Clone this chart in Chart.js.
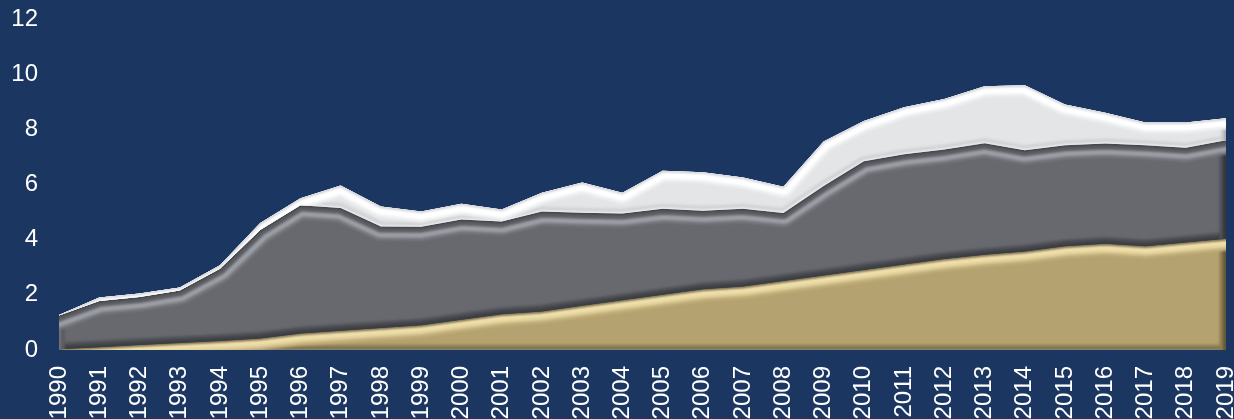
<!DOCTYPE html>
<html>
<head>
<meta charset="utf-8">
<script src="https://cdn.jsdelivr.net/npm/chart.js@4/dist/chart.umd.min.js"></script>
<style>
  html, body { margin: 0; padding: 0; background: #1b3660; }
  #wrap { width: 1234px; height: 419px; }
</style>
</head>
<body>
<div id="wrap"><canvas id="c" width="1234" height="419"></canvas></div>
<script>
// Categories
const years = ['1990','1991','1992','1993','1994','1995','1996','1997','1998','1999',
               '2000','2001','2002','2003','2004','2005','2006','2007','2008','2009',
               '2010','2011','2012','2013','2014','2015','2016','2017','2018','2019'];

// Stacked series, bottom to top
const goldLayer  = [0.03, 0.10, 0.18, 0.25, 0.33, 0.42, 0.60, 0.70, 0.80, 0.90,
                    1.10, 1.30, 1.40, 1.60, 1.80, 2.00, 2.20, 2.30, 2.50, 2.70,
                    2.90, 3.10, 3.30, 3.45, 3.57, 3.76, 3.85, 3.76, 3.90, 4.03];
const greyLayer  = [1.22, 1.68, 1.74, 1.91, 2.62, 3.93, 4.65, 4.45, 3.68, 3.57,
                    3.63, 3.36, 3.62, 3.38, 3.15, 3.12, 2.85, 2.82, 2.47, 3.25,
                    3.94, 4.00, 3.97, 4.05, 3.67, 3.66, 3.64, 3.66, 3.43, 3.57];
const lightLayer = [0.02, 0.12, 0.13, 0.11, 0.12, 0.25, 0.25, 0.81, 0.72, 0.55,
                    0.57, 0.43, 0.68, 1.09, 0.75, 1.38, 1.39, 1.13, 0.95, 1.61,
                    1.46, 1.70, 1.83, 2.06, 2.36, 1.48, 1.11, 0.83, 0.92, 0.80];

// Value axis ticks
const yTicks = [0, 2, 4, 6, 8, 10, 12];

// Bevel bands per layer: [stroke width, colour], widest first
const bevelStyles = [
  { // gold
    bottom: [[12, '#a08f5f'], [7, '#7d6f47'], [2, '#8e8d86']],
    left:   [],
    right:  [[13, '#8c7d51'], [6, '#63583a']],
    top:    [[24, '#c2b07b'], [18, '#e2d19c'], [12, '#f0e0ad'], [4, '#b19f69'], [1.5, '#56524a']]
  },
  { // grey
    bottom: [[14, '#57595e'], [10, '#484a4f'], [5, '#3b3d41']],
    left:   [[12, '#5a5c61'], [4, '#717378']],
    right:  [[13, '#4e5055'], [6, '#36383c']],
    top:    [[28, '#76787e'], [22, '#9c9ea5'], [12, '#5c5e64'], [3, '#3f4146']]
  },
  { // light
    bottom: [[10, '#d2d3d6'], [2, '#f7f7f8']],
    left:   [],
    right:  [[10, '#cbccd0'], [4, '#a8aaae']],
    top:    [[22, '#eeeff0'], [16, '#ffffff'], [3, '#cdcfd3']]
  }
];

function tracePolyline(ctx, pts) {
  ctx.beginPath();
  pts.forEach((p, k) => k ? ctx.lineTo(p.x, p.y) : ctx.moveTo(p.x, p.y));
}

const bevelPlugin = {
  id: 'bevel',
  afterDatasetsDraw(chart) {
    const ctx = chart.ctx;
    const area = chart.chartArea;
    const base = chart.scales.y.getPixelForValue(0);
    let lower = chart.getDatasetMeta(0).data.map(p => ({ x: p.x, y: base }));
    chart.data.datasets.forEach((ds, i) => {
      const upper = chart.getDatasetMeta(i).data.map(p => ({ x: p.x, y: p.y }));
      const st = bevelStyles[i];
      ctx.save();
      ctx.beginPath();
      upper.forEach((p, k) => k ? ctx.lineTo(p.x, p.y) : ctx.moveTo(p.x, p.y));
      for (let k = lower.length - 1; k >= 0; k--) ctx.lineTo(lower[k].x, lower[k].y);
      ctx.closePath();
      ctx.clip();
      ctx.lineJoin = 'round';
      ctx.lineCap = 'square';
      ctx.filter = 'blur(0.8px)';
      st.bottom.forEach(([w, c]) => {
        tracePolyline(ctx, lower); ctx.lineWidth = w; ctx.strokeStyle = c; ctx.stroke();
      });
      st.left.forEach(([w, c]) => {
        ctx.beginPath(); ctx.moveTo(area.left, area.top - 20); ctx.lineTo(area.left, area.bottom + 20);
        ctx.lineWidth = w; ctx.strokeStyle = c; ctx.stroke();
      });
      st.right.forEach(([w, c]) => {
        ctx.beginPath(); ctx.moveTo(area.right, area.top - 20); ctx.lineTo(area.right, area.bottom + 20);
        ctx.lineWidth = w; ctx.strokeStyle = c; ctx.stroke();
      });
      st.top.forEach(([w, c]) => {
        tracePolyline(ctx, upper); ctx.lineWidth = w; ctx.strokeStyle = c; ctx.stroke();
      });
      ctx.restore();
      lower = upper;
    });
  }
};

const layer = (data, color, fill) => ({
  data, fill,
  backgroundColor: color,
  borderColor: 'transparent',
  borderWidth: 0,
  pointRadius: 0,
  pointHoverRadius: 0,
  tension: 0
});

const font = { family: '"Liberation Sans", Arial, sans-serif', size: 24 };

new Chart(document.getElementById('c'), {
  type: 'line',
  data: {
    labels: years,
    datasets: [
      layer(goldLayer,  '#b5a271', 'origin'),
      layer(greyLayer,  '#67696f', '-1'),
      layer(lightLayer, '#e4e5e7', '-1')
    ]
  },
  options: {
    responsive: false,
    animation: false,
    events: [],
    layout: { padding: { top: 19, right: 8, left: 0, bottom: 0 } },
    plugins: { legend: { display: false }, tooltip: { enabled: false } },
    scales: {
      x: {
        grid: { display: false, drawTicks: false },
        border: { display: false },
        ticks: { color: '#ffffff', font, minRotation: 90, maxRotation: 90, padding: 16, autoSkip: false },
        afterFit(s) { s.height = 69; s.paddingLeft = 0; s.paddingRight = 0; }
      },
      y: {
        stacked: true,
        min: 0, max: 12,
        grid: { display: false, drawTicks: false },
        border: { display: false },
        ticks: { color: '#ffffff', font, padding: 21 },
        afterBuildTicks(s) { s.ticks = yTicks.map(v => ({ value: v })); },
        afterFit(s) { s.width = 59; s.paddingTop = 0; s.paddingBottom = 0; }
      }
    }
  },
  plugins: [bevelPlugin]
});
</script>
</body>
</html>
